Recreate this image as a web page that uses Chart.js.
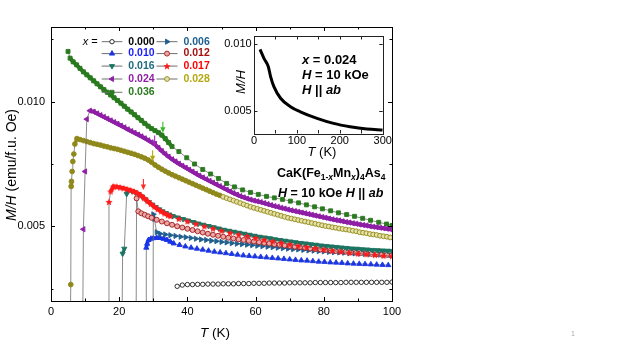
<!DOCTYPE html>
<html><head><meta charset="utf-8">
<script src="https://cdn.jsdelivr.net/npm/chart.js@4.4.1/dist/chart.umd.min.js"></script>
<style>
html,body{margin:0;padding:0;background:#fff;}
#wrap{position:relative;width:623px;height:350px;overflow:hidden;background:#fff;}
#main{position:absolute;left:0;top:0;}
#inset{position:absolute;left:220px;top:25px;}
</style></head><body>
<div id="wrap"><canvas id="main" width="623" height="350"></canvas><canvas id="inset" width="175" height="140"></canvas></div>
<script>
// ---------------- DATA ----------------
const SERIES_NAMES = ['0.000','0.006','0.010','0.012','0.016','0.017','0.024','0.028','0.036'];

const T_000 = [37,38.5,40,41.5,43,44.5,46,47.5,49,50.5,52,53.5,55,56.5,58,59.5,61,62.5,64,65.5,67,68.5,70,71.5,73,74.5,76,77.5,79,80.5,82,83.5,85,86.5,88,89.5,91,92.5,94,95.5,97,98.5,100];
const M_000 = [.00259,.00264,.00266,.00266,.00267,.00267,.00268,.00268,.00268,.00269,.00269,.00269,.00270,.00270,.00270,.00271,.00271,.00271,.00272,.00272,.00272,.00272,.00273,.00273,.00273,.00273,.00273,.00274,.00274,.00274,.00274,.00274,.00274,.00275,.00275,.00275,.00275,.00275,.00275,.00275,.00275,.00275,.00276];

const T_006 = [29.9,30.0,30.3,31.0,32.0,33.5,35,36.5,38,39.5,41,42.5,44,45.5,47,48.5,50,51.5,53,54.5,56,57.5,59,60.5,62,63.5,65,66.5,68,69.5,71,72.5,74,75.5,77,78.5,80,81.5,83,84.5,86,87.5,89,90.5,92,93.5,95,96.5,98,99.5];
const M_006 = [-0.001,.00548,.00530,.00476,.00470,.00467,.00464,.00461,.00458,.00456,.00453,.00450,.00447,.00445,.00442,.00440,.00437,.00435,.00432,.00430,.00428,.00426,.00424,.00422,.00420,.00418,.00416,.00414,.00412,.00410,.00408,.00407,.00405,.00403,.00402,.00400,.00399,.00397,.00396,.00395,.00394,.00392,.00391,.00390,.00389,.00388,.00387,.00386,.00385,.00384];

const T_010 = [27.9,27.95,28.2,28.6,29.3,30,31,32,33,34,35,36,37.7,39.4,41.1,42.8,44.5,46.2,47.9,49.6,51.3,53,54.7,56.4,58.1,59.8,61.5,63.2,64.9,66.6,68.3,70,71.7,73.4,75.1,76.8,78.5,80.2,81.9,83.6,85.3,87,88.7,90.4,92.1,93.8,95.5,97.2,98.9];
const M_010 = [-0.001,.00414,.00430,.00445,.00450,.00452,.00454,.00453,.00450,.00445,.00438,.00431,.00425,.00419,.00414,.00410,.00406,.00402,.00398,.00395,.00392,.00389,.00386,.00383,.00381,.00379,.00377,.00375,.00373,.00371,.00369,.00367,.00365,.00363,.00362,.00360,.00358,.00357,.00355,.00354,.00353,.00351,.00350,.00349,.00348,.00347,.00346,.00345,.00344];

const T_012 = [24.9,25.1,25.6,26.5,27.5,28.5,29.5,31,32.5,34,35.5,37,38.5,40,41.5,43,44.5,46,47.5,49,50.5,52,53.5,55,56.5,58,59.5,61,62.5,64,65.5,67,68.5,70,71.5,73,74.5,76,77.5,79,80.5,82,83.5,85,86.5,88,89.5,91,92.5,94,95.5,97,98.5,100];
const M_012 = [-0.001,.00612,.00560,.00552,.00546,.00540,.00534,.00526,.00519,.00512,.00506,.00500,.00495,.00490,.00485,.00480,.00475,.00470,.00466,.00462,.00458,.00454,.00451,.00448,.00445,.00442,.00439,.00436,.00433,.00431,.00428,.00426,.00423,.00421,.00418,.00416,.00414,.00411,.00409,.00407,.00405,.00403,.00401,.00400,.00398,.00396,.00394,.00393,.00391,.00389,.00388,.00386,.00385,.00384];

const T_016 = [20.7,21.0,21.5,22.2,22.7,23.7,24.7,25.7,26.7,27.7,28.7,29.7,30.7,31.7,32.7,33.7,34.7,35.7,37.2,38.7,40.2,41.7,43.2,44.7,46.2,47.7,49.2,50.7,52.2,53.7,55.2,56.7,58.2,59.7,61.2,62.7,64.2,65.7,67.2,68.7,70.2,71.7,73.2,74.7,76.2,77.7,79.2,80.7,82.2,83.7,85.2,86.7,88.2,89.7,91.2,92.7,94.2,95.7,97.2,98.7,100];
const M_016 = [-0.001,.00390,.00410,.00630,.00645,.00641,.00636,.00629,.00619,.00608,.00597,.00587,.00577,.00568,.00560,.00553,.00547,.00541,.00535,.00529,.00523,.00517,.00511,.00506,.00501,.00496,.00491,.00486,.00482,.00478,.00474,.00470,.00466,.00462,.00458,.00455,.00452,.00448,.00445,.00442,.00439,.00436,.00433,.00431,.00428,.00426,.00423,.00421,.00419,.00417,.00415,.00413,.00411,.00410,.00408,.00407,.00405,.00404,.00403,.00402,.00401];

const T_017 = [16.8,17.0,17.5,18.3,19.3,20.3,21.3,22.3,23.3,24.3,25.3,26.3,27.3,28.3,29.3,30.3,31.3,32.3,33.3,34.3,35.0,37.5,40,42.5,45,47.5,50,52.5,55,57.5,60,62.5,65,67.5,70,72.5,75,77.5,80,82.5,85,87.5,90,92.5,95,97.5,100];
const M_017 = [-0.001,.00598,.00640,.00660,.00659,.00656,.00653,.00649,.00645,.00640,.00634,.00625,.00613,.00601,.00590,.00579,.00569,.00560,.00552,.00545,.00541,.00530,.00520,.00510,.00500,.00491,.00482,.00474,.00467,.00460,.00453,.00446,.00440,.00434,.00428,.00422,.00417,.00412,.00407,.00402,.00398,.00394,.00391,.00388,.00385,.00382,.00380];

const T_024 = [9.2,9.5,10.0,10.5,11.4,12.5,13.5,14.5,15.5,16.5,17.5,18.5,19.5,20.5,21.5,22.5,23.5,24.5,25.5,26.5,27.5,28.5,29.5,30.5,31.5,32.5,33.5,34.5,35.5,36.5,37.5,38.5,39.5,40.5,41.5,42.5,43.5,44.5,45.5,46.5,47.5,48.5,49.5,50.5,51.5,52.5,53.5,54.5,55.5,56.5,57.5,58.5,59.5,60.5,61.5,62.5,63.5,64.5,65.5,66.5,67.5,68.5,69.5,70.5,71.5,72.5,73.5,74.5,75.5,76.5,77.5,78.5,79.5,80.5,81.5,82.5,83.5,84.5,85.5,86.5,87.5,88.5,89.5,90.5,91.5,92.5,93.5,94.5,95.5,96.5,97.5,98.5,99.5];
const M_024 = [-0.001,.00488,.00720,.00930,.00964,.00960,.00953,.00946,.00939,.00932,.00925,.00918,.00911,.00904,.00897,.00889,.00882,.00875,.00868,.00861,.00853,.00845,.00837,.00828,.00815,.00802,.00790,.00779,.00769,.00760,.00751,.00743,.00735,.00727,.00719,.00711,.00703,.00696,.00689,.00682,.00675,.00668,.00661,.00654,.00647,.00640,.00633,.00627,.00621,.00616,.00611,.00607,.00603,.00600,.00597,.00593,.00589,.00585,.00581,.00578,.00574,.00571,.00567,.00564,.00561,.00558,.00555,.00552,.00549,.00546,.00543,.00540,.00537,.00534,.00531,.00528,.00525,.00523,.00520,.00517,.00515,.00512,.00510,.00507,.00505,.00503,.00500,.00498,.00496,.00494,.00492,.00490,.00488];

const T_028 = [5.5,5.8,5.9,6.0,6.2,6.4,6.7,7.0,7.6,8.5,9.5,10.5,11.5,12.5,13.5,14.5,15.5,16.5,17.5,18.5,19.5,20.5,21.5,22.5,23.5,24.5,25.5,26.5,27.5,28.5,29.5,30.5,31.5,32.5,33.5,34.5,35.5,36.5,37.5,38.5,39.5,40.5,41.5,42.5,43.5,44.5,45.5,46.5,47.5,48.5,49.5,50.5,51.5,52.5,53.5,54.5,55.5,56.5,57.5,58.5,59.5,60.5,61.5,62.5,63.5,64.5,65.5,66.5,67.5,68.5,69.5,70.5,71.5,72.5,73.5,74.5,75.5,76.5,77.5,78.5,79.5,80.5,81.5,82.5,83.5,84.5,85.5,86.5,87.5,88.5,89.5,90.5,91.5,92.5,93.5,94.5,95.5,96.5,97.5,98.5,99.5];
const M_028 = [-0.001,.00266,.00660,.00680,.00720,.00760,.00790,.00830,.00852,.00848,.00844,.00840,.00836,.00832,.00829,.00826,.00822,.00819,.00815,.00812,.00809,.00805,.00801,.00797,.00793,.00789,.00784,.00779,.00773,.00766,.00757,.00746,.00737,.00729,.00721,.00714,.00707,.00701,.00695,.00689,.00683,.00677,.00671,.00665,.00659,.00653,.00647,.00641,.00635,.00629,.00624,.00618,.00613,.00608,.00603,.00598,.00593,.00588,.00583,.00578,.00574,.00570,.00566,.00562,.00558,.00554,.00550,.00546,.00542,.00538,.00534,.00531,.00528,.00525,.00522,.00519,.00516,.00513,.00510,.00507,.00504,.00501,.00499,.00496,.00494,.00491,.00489,.00487,.00485,.00482,.00480,.00476,.00474,.00472,.00469,.00467,.00465,.00462,.00460,.00458,.00455];

const T_036 = [5.0,5.6,6.5,7.5,8.5,9.5,10.5,11.5,12.5,13.5,14.5,15.5,16.5,17.5,18.5,19.5,20.5,21.5,22.5,23.5,24.5,25.5,26.5,27.5,28.5,29.5,30.5,31.5,32.5,33.5,34.5,35.5,37.5,39.8,42.1,44.5,46.8,49.1,51.5,53.8,56.2,58.5,60.8,63.2,65.5,67.9,70.2,72.6,74.9,77.3,79.6,82.0,84.3,86.7,89.0,91.4,93.7,96.1,98.4,100];
const M_036 = [.01202,.01175,.01160,.01148,.01134,.01120,.01108,.01096,.01084,.01072,.01060,.01049,.01038,.01027,.01016,.01005,.00994,.00982,.00970,.00959,.00948,.00936,.00925,.00913,.00902,.00892,.00884,.00876,.00866,.00852,.00836,.00820,.00800,.00775,.00750,.00728,.00710,.00692,.00672,.00658,.00646,.00636,.00628,.00620,.00614,.00608,.00601,.00594,.00586,.00578,.00570,.00562,.00554,.00547,.00540,.00532,.00524,.00516,.00509,.00503];

// inset: x = 0.024 over 0-300 K
const T_IN = [14,23.2,33.4,38.7,46.4,61.9,85,108,147,185.5,224,263,300];
const M_IN = [.0096,.00893,.0083,.00755,.0068,.00593,.0053,.00492,.00443,.00405,.0038,.00363,.00355];

// kink arrows (T, M at arrow tip)
const ARROW_T = [32.8,30.4,29.8,27.1];
const ARROW_M = [0.00875,0.0082,0.00761,0.00646];

// ---------------- STYLES ----------------
const FONT = "'Liberation Sans', Arial, Helvetica, sans-serif";
Chart.defaults.font.family = FONT;
const SERIES_DATA = {
 '0.000':[T_000,M_000],'0.006':[T_006,M_006],'0.010':[T_010,M_010],'0.012':[T_012,M_012],
 '0.016':[T_016,M_016],'0.017':[T_017,M_017],'0.024':[T_024,M_024],'0.028':[T_028,M_028],'0.036':[T_036,M_036]
};
const STYLE = {
 '0.000': {color:'#1a1a1a', fill:'#ffffff', dfill:'#ffffff', shape:'circle',   rot:0,   r:2.2, text:'#000000', band:0,   maxDx:1.15},
 '0.006': {color:'#1f5f8f', fill:'#1f5f8f', dfill:'#1f5f8f', shape:'triangle', rot:90,  r:3.0, text:'#1f5f8f', band:3,   maxDx:1.15},
 '0.010': {color:'#1a35e6', fill:'#1a35e6', dfill:'#1a35e6', shape:'triangle', rot:0,   r:3.0, text:'#1a1aff', band:3.5, maxDx:1.15},
 '0.012': {color:'#a31818', fill:'#e8a8a8', dfill:'#e8a8a8', shape:'circle',   rot:0,   r:2.5, text:'#a31010', band:1.6, maxDx:1.6},
 '0.016': {color:'#1b7562', fill:'#1b7562', dfill:'#1b7562', shape:'triangle', rot:180, r:3.0, text:'#1f6a80', band:3,   maxDx:1.6},
 '0.017': {color:'#ff1a1a', fill:'#ff1a1a', dfill:'#ff1a1a', shape:'star',     rot:0,   r:3.8, text:'#ff0000', band:4,   maxDx:1.15},
 '0.024': {color:'#8e1fa5', fill:'#8e1fa5', dfill:'#8e1fa5', shape:'triangle', rot:270, r:3.0, text:'#8e1fa5', band:4,   maxDx:1.15},
 '0.028': {color:'#8f881a', fill:'#e6e1a6', dfill:'#8f881a', shape:'circle',   rot:0,   r:2.4, text:'#b5a80f', band:3.5, maxDx:1.15, denseUntil:50},
 '0.036': {color:'#2a7a1f', fill:'#2a7a1f', dfill:'#2a7a1f', shape:'rect',     rot:0,   r:2.8, text:'#2a7a1f', band:4,   maxDx:1.15}
};
const DRAW_ORDER = ['0.017','0.016','0.024','0.036','0.028','0.012','0.006','0.010','0.000']; // first = on top
const ARROW_COLORS = ['#33bb22','#9a2ab5','#b5a80f','#ff2a2a'];
const LEG_ROWS = [['0.000','0.006'],['0.010','0.012'],['0.016','0.017'],['0.024','0.028'],['0.036',null]];
const LEG = {xEq:82.7, cols:[{l1:101.7,l2:122.3,txt:128.3},{l1:156.5,l2:177.5,txt:183.5}], rowY:[41.7,53.6,66.1,79.0,92.3]};

const starCache = {};
function starImg(color, r){
  const key=color+r; if(starCache[key]) return starCache[key];
  const s=Math.ceil(r*2+2); const c=document.createElement('canvas'); c.width=s; c.height=s;
  const g=c.getContext('2d'); g.beginPath();
  for(let i=0;i<10;i++){ const a=-Math.PI/2+i*Math.PI/5; const rr=(i%2)? r*0.45 : r; g.lineTo(s/2+rr*Math.cos(a), s/2+0.4+rr*Math.sin(a)); }
  g.closePath(); g.fillStyle=color; g.fill();
  starCache[key]=c; return c;
}
function mkData(T,M){ const n=Math.min(T.length,M.length); const o=[]; for(let i=0;i<n;i++) o.push({x:T[i],y:M[i]}); return o; }

function fontStr(s,size,bold){ const sz = s.sub? size*0.68 : size; return `${s.it?'italic ':''}${bold?'bold ':''}${sz}px ${FONT}`; }
function richWidth(ctx,segs,size,bold){ let w=0; for(const s of segs){ ctx.font=fontStr(s,size,bold); w+=ctx.measureText(s.t).width; } return w; }
function rich(ctx,x,y,segs,size,bold,color){
  let cx=x; ctx.textBaseline='middle'; ctx.textAlign='left'; ctx.fillStyle=color||'#000';
  for(const s of segs){ ctx.font=fontStr(s,size,bold); ctx.fillText(s.t,cx,y+(s.sub?size*0.32:0)); cx+=ctx.measureText(s.t).width; }
  return cx;
}
function drawMarker(ctx, st, x, y){
  if(st.shape==='star'){ const img=starImg(st.fill,st.r); ctx.drawImage(img, x-img.width/2, y-img.height/2); return; }
  ctx.save(); ctx.fillStyle=st.fill; ctx.strokeStyle=st.color; ctx.lineWidth=0.9;
  if(Chart.helpers && Chart.helpers.drawPoint){
    Chart.helpers.drawPoint(ctx,{pointStyle:st.shape, rotation:st.rot, radius:st.r, borderWidth:0.9},x,y);
  } else { ctx.beginPath(); ctx.arc(x,y,st.r,0,Math.PI*2); ctx.fill(); ctx.stroke(); }
  ctx.restore();
}
function drawFrame(ctx, chart, majorLen, minorLen, color){
  const a=chart.chartArea, x=chart.scales.x, y=chart.scales.y;
  ctx.save(); ctx.strokeStyle=color; ctx.lineWidth=1; ctx.beginPath();
  x.ticks.forEach(t=>{ const px=Math.round(x.getPixelForValue(t.value))+0.5; const L=t.label?majorLen:minorLen;
    ctx.moveTo(px,a.bottom); ctx.lineTo(px,a.bottom-L); ctx.moveTo(px,a.top); ctx.lineTo(px,a.top+L); });
  y.ticks.forEach(t=>{ const py=Math.round(y.getPixelForValue(t.value))+0.5; const L=t.label?majorLen:minorLen;
    ctx.moveTo(a.left,py); ctx.lineTo(a.left+L,py); ctx.moveTo(a.right,py); ctx.lineTo(a.right-L,py); });
  ctx.stroke();
  ctx.strokeRect(Math.round(a.left)+0.5, Math.round(a.top)+0.5, Math.round(a.right-a.left), Math.round(a.bottom-a.top));
  ctx.restore();
}

// ---------------- MAIN CHART ----------------
function isDense(c, st){
  const a=c.p0.parsed, b=c.p1.parsed;
  const lim = st.denseUntil===undefined ? Infinity : st.denseUntil;
  return st.band>0 && (b.x-a.x)<=st.maxDx && Math.abs(b.y-a.y)<0.00025 && b.x<=lim;
}
const datasets = DRAW_ORDER.map(name=>{
  const st=STYLE[name]; const [T,M]=SERIES_DATA[name];
  const lim = st.denseUntil===undefined ? Infinity : st.denseUntil;
  return { label:name, data:mkData(T,M), showLine:true, borderColor:'#6e6e6e', borderWidth:0.8,
    segment:{ borderColor:c=> isDense(c,st)? st.color : '#6e6e6e', borderWidth:c=> isDense(c,st)? st.band : 0.8 },
    pointStyle: st.shape==='star'? starImg(st.fill,st.r) : st.shape, pointRotation:st.rot, pointRadius:st.r,
    pointBackgroundColor:c=> (c.raw && c.raw.x < lim)? st.dfill : st.fill,
    pointBorderColor:st.color, pointBorderWidth:0.9, pointHoverRadius:st.r, clip:0, tension:0 };
});

const mainPlugin = {
  id:'mainDeco',
  afterDraw(chart){
    const ctx=chart.ctx, xs=chart.scales.x, ys=chart.scales.y;
    drawFrame(ctx, chart, 4, 2.5, '#000');
    const yl=[{t:'M/H',it:1},{t:' (emu/f.u. Oe)'}];
    ctx.save(); ctx.translate(12,165); ctx.rotate(-Math.PI/2);
    rich(ctx,-richWidth(ctx,yl,14,false)/2,0,yl,14,false,'#000'); ctx.restore();
    const xl=[{t:'T',it:1},{t:' (K)'}];
    rich(ctx,215-richWidth(ctx,xl,13.5,false)/2,333,xl,13.5,false,'#000');
    rich(ctx,277,174,[{t:'CaK(Fe'},{t:'1-',sub:1},{t:'x',sub:1,it:1},{t:'Mn'},{t:'x',sub:1,it:1},{t:')'},{t:'4',sub:1},{t:'As'},{t:'4',sub:1}],12.5,true,'#000');
    rich(ctx,278,194,[{t:'H',it:1},{t:' = 10 kOe '},{t:'H',it:1},{t:' || '},{t:'ab',it:1}],12.5,true,'#000');
    rich(ctx,LEG.xEq,LEG.rowY[0],[{t:'x',it:1},{t:' ='}],11,false,'#000');
    LEG_ROWS.forEach((row,ri)=>{
      row.forEach((name,ci)=>{
        if(!name) return; const c=LEG.cols[ci], yy=LEG.rowY[ri], st=STYLE[name];
        ctx.save(); ctx.strokeStyle='#6e6e6e'; ctx.lineWidth=1; ctx.beginPath(); ctx.moveTo(c.l1,yy); ctx.lineTo(c.l2,yy); ctx.stroke(); ctx.restore();
        drawMarker(ctx,st,(c.l1+c.l2)/2,yy);
        rich(ctx,c.txt,yy,[{t:name}],10.5,true,st.text);
      });
    });
    ARROW_T.forEach((t,i)=>{
      const px=xs.getPixelForValue(t), py=ys.getPixelForValue(ARROW_M[i]);
      ctx.save(); ctx.strokeStyle=ARROW_COLORS[i]; ctx.fillStyle=ARROW_COLORS[i]; ctx.lineWidth=1.1;
      ctx.beginPath(); ctx.moveTo(px,py-11); ctx.lineTo(px,py-4); ctx.stroke();
      ctx.beginPath(); ctx.moveTo(px-2.6,py-5.5); ctx.lineTo(px+2.6,py-5.5); ctx.lineTo(px,py); ctx.closePath(); ctx.fill();
      ctx.restore();
    });
    ctx.save(); ctx.fillStyle='#aaaaaa'; ctx.font=`7px ${FONT}`; ctx.textAlign='center'; ctx.textBaseline='middle'; ctx.fillText('1',573,334); ctx.restore();
  }
};

new Chart(document.getElementById('main'), {
  type:'scatter',
  data:{datasets},
  options:{
    animation:false, responsive:false, devicePixelRatio:1,
    layout:{padding:{left:0,top:27,right:231,bottom:0}},
    plugins:{legend:{display:false}, tooltip:{enabled:false}},
    scales:{
      x:{type:'linear', min:0, max:100, afterFit(s){s.height=49;},
         ticks:{stepSize:10, autoSkip:false, maxRotation:0, padding:4, color:'#000', font:{size:11,family:FONT},
                callback:v=> (Math.round(v)%20===0)? String(Math.round(v)) : ''},
         grid:{display:false, drawTicks:false}, border:{display:false}},
      y:{type:'linear', min:0.002, max:0.013, afterFit(s){s.width=51;},
         ticks:{stepSize:0.0025, includeBounds:false, autoSkip:false, padding:6, color:'#000', font:{size:11,family:FONT},
                callback:v=>{ const k=Math.round(v/0.0025); return (Math.abs(v-k*0.0025)<1e-9 && k%2===0)? v.toFixed(3):''; }},
         grid:{display:false, drawTicks:false}, border:{display:false}}
    }
  },
  plugins:[mainPlugin]
});

// ---------------- INSET ----------------
const insetPlugin = {
  id:'insetDeco',
  beforeDatasetsDraw(chart){ const a=chart.chartArea, ctx=chart.ctx; ctx.save(); ctx.fillStyle='#fff'; ctx.fillRect(a.left,a.top,a.right-a.left,a.bottom-a.top); ctx.restore(); },
  afterDraw(chart){
    const ctx=chart.ctx;
    drawFrame(ctx, chart, 3.5, 3.5, '#222');
    const xl=[{t:'T',it:1},{t:' (K)'}];
    rich(ctx,102-richWidth(ctx,xl,13,false)/2,127.5,xl,13,false,'#000');
    const yl=[{t:'M/H',it:1}];
    ctx.save(); ctx.translate(21.5,57); ctx.rotate(-Math.PI/2);
    rich(ctx,-richWidth(ctx,yl,13,false)/2,0,yl,13,false,'#000'); ctx.restore();
    rich(ctx,82,35,[{t:'x',it:1},{t:' = 0.024'}],13,true,'#000');
    rich(ctx,82,50,[{t:'H',it:1},{t:' = 10 kOe'}],13,true,'#000');
    rich(ctx,82,65,[{t:'H',it:1},{t:' || '},{t:'ab',it:1}],13,true,'#000');
  }
};
new Chart(document.getElementById('inset'), {
  type:'scatter',
  data:{datasets:[{data:mkData(T_IN,M_IN), showLine:true, borderColor:'#000', borderWidth:3, pointRadius:0, pointHoverRadius:0, cubicInterpolationMode:'monotone', clip:0}]},
  options:{
    animation:false, responsive:false, devicePixelRatio:1,
    layout:{padding:{left:0,top:11,right:12.3,bottom:0}},
    plugins:{legend:{display:false}, tooltip:{enabled:false}},
    scales:{
      x:{type:'linear', min:0, max:300, afterFit(s){s.height=31.5;},
         ticks:{stepSize:50, autoSkip:false, maxRotation:0, padding:1, color:'#000', font:{size:11,family:FONT},
                callback:v=> (Math.round(v)%100===0)? String(Math.round(v)) : ''},
         grid:{display:false, drawTicks:false}, border:{display:false}},
      y:{type:'linear', min:0.00329, max:0.0106, afterFit(s){s.width=34;},
         ticks:{stepSize:0.005, includeBounds:false, autoSkip:false, padding:2.3, color:'#000', font:{size:11,family:FONT},
                callback:v=>v.toFixed(3)},
         grid:{display:false, drawTicks:false}, border:{display:false}}
    }
  },
  plugins:[insetPlugin]
});
</script>
</body></html>
